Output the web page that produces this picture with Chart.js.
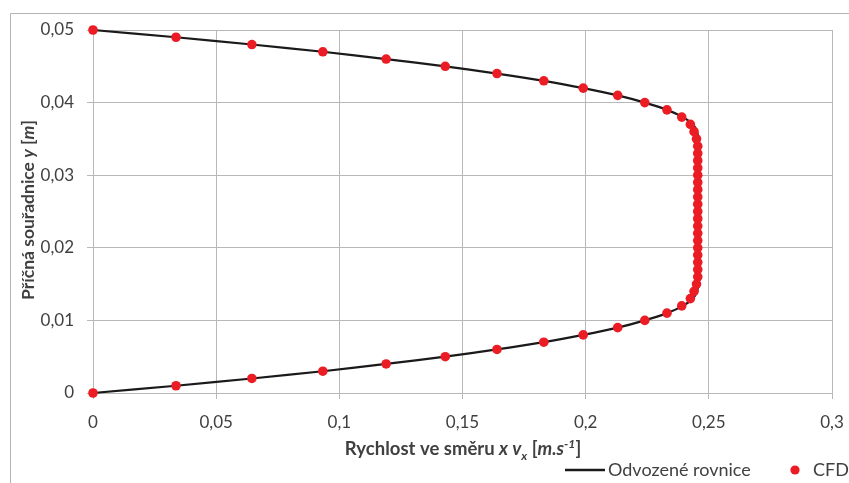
<!DOCTYPE html>
<html>
<head>
<meta charset="utf-8">
<script src="https://cdn.jsdelivr.net/npm/chart.js@4/dist/chart.umd.min.js"></script>
<style>
  html, body { margin: 0; padding: 0; background: #ffffff; }
  #wrap { width: 849px; height: 483px; position: relative; }
</style>
</head>
<body>
<div id="wrap"><canvas id="c" width="849" height="483"></canvas></div>
<script>
// ---- Data ----
const yCFD = [0, 0.001, 0.002, 0.003, 0.004, 0.005, 0.006, 0.007, 0.008, 0.009,
  0.010, 0.011, 0.012, 0.013, 0.014, 0.015, 0.016, 0.017, 0.018, 0.019,
  0.020, 0.021, 0.022, 0.023, 0.024, 0.025, 0.026, 0.027, 0.028, 0.029,
  0.030, 0.031, 0.032, 0.033, 0.034, 0.035, 0.036, 0.037, 0.038, 0.039,
  0.040, 0.041, 0.042, 0.043, 0.044, 0.045, 0.046, 0.047, 0.048, 0.049, 0.050];
const xCFD = [0, 0.0337, 0.0645, 0.0933, 0.119, 0.143, 0.164, 0.183, 0.199, 0.213,
  0.224, 0.233, 0.239, 0.2425, 0.244, 0.245, 0.2455, 0.2455, 0.2455, 0.2455,
  0.2455, 0.2455, 0.2455, 0.2455, 0.2455, 0.2455, 0.2455, 0.2455, 0.2455, 0.2455,
  0.2455, 0.2455, 0.2455, 0.2455, 0.2455, 0.245, 0.244, 0.2425, 0.239, 0.233,
  0.224, 0.213, 0.199, 0.183, 0.164, 0.143, 0.119, 0.0933, 0.0645, 0.0337, 0];

const yLine = [0, 0.001, 0.002, 0.003, 0.004, 0.005, 0.006, 0.007, 0.008, 0.009,
  0.010, 0.011, 0.012, 0.013, 0.014, 0.015, 0.020, 0.025, 0.030, 0.035,
  0.036, 0.037, 0.038, 0.039, 0.040, 0.041, 0.042, 0.043, 0.044, 0.045,
  0.046, 0.047, 0.048, 0.049, 0.050];
const xLine = [0, 0.0337, 0.0645, 0.0933, 0.119, 0.143, 0.164, 0.183, 0.199, 0.213,
  0.224, 0.233, 0.2395, 0.2435, 0.2452, 0.2457, 0.2458, 0.2458, 0.2458, 0.2457,
  0.2452, 0.2435, 0.2395, 0.233, 0.224, 0.213, 0.199, 0.183, 0.164, 0.143,
  0.119, 0.0933, 0.0645, 0.0337, 0];

const xTicks = { min: 0, max: 0.3, step: 0.05 };
const yTicks = { min: 0, max: 0.05, step: 0.01 };

const seriesNames = ['Odvozené rovnice', 'CFD'];

const FONT = 'Lato, "Open Sans", sans-serif';
const TEXT = '#404040';
const GRID = '#b8b8b8';
const RED = '#ec1c24';

function fmt(v) {
  return String(Number(v.toFixed(3))).replace('.', ',');
}

function drawRich(ctx, segs, x, y, size) {
  let total = 0;
  const widths = segs.map(s => {
    const fs = s.sub || s.sup ? size * 0.66 : size;
    ctx.font = (s.italic ? 'italic ' : '') + 'bold ' + fs + 'px ' + FONT;
    const w = ctx.measureText(s.t).width;
    total += w;
    return w;
  });
  let cx = x - total / 2;
  ctx.textBaseline = 'alphabetic';
  ctx.textAlign = 'left';
  segs.forEach((s, i) => {
    const fs = s.sub || s.sup ? size * 0.66 : size;
    ctx.font = (s.italic ? 'italic ' : '') + 'bold ' + fs + 'px ' + FONT;
    let dy = 0;
    if (s.sub) dy = size * 0.25;
    if (s.sup) dy = -size * 0.4;
    ctx.fillText(s.t, cx, y + dy);
    cx += widths[i];
  });
}

const decor = {
  id: 'decor',
  beforeDraw(chart) {
    const ctx = chart.ctx;
    ctx.save();
    ctx.strokeStyle = '#b3b3b3';
    ctx.lineWidth = 1;
    ctx.beginPath();
    ctx.moveTo(10.5, 483);
    ctx.lineTo(10.5, 13.5);
    ctx.lineTo(849, 13.5);
    ctx.stroke();
    ctx.restore();
  },
  afterDraw(chart) {
    const ctx = chart.ctx;
    ctx.save();
    ctx.fillStyle = TEXT;
    // X axis title
    drawRich(ctx, [
      { t: 'Rychlost ve směru ' },
      { t: 'x v', italic: true },
      { t: 'x', italic: true, sub: true },
      { t: ' [' },
      { t: 'm.s', italic: true },
      { t: '-1', italic: true, sup: true },
      { t: ']' }
    ], 463, 455, 18.5);
    // Y axis title
    ctx.save();
    ctx.translate(34, 210);
    ctx.rotate(-Math.PI / 2);
    drawRich(ctx, [
      { t: 'Příčná souřadnice ' },
      { t: 'y', italic: true },
      { t: ' [' },
      { t: 'm', italic: true },
      { t: ']' }
    ], 0, 0, 17.5);
    ctx.restore();
    // Legend
    const ly = 470;
    ctx.strokeStyle = '#1a1a1a';
    ctx.lineWidth = 2.5;
    ctx.beginPath();
    ctx.moveTo(565, ly);
    ctx.lineTo(605, ly);
    ctx.stroke();
    ctx.font = '18px ' + FONT;
    ctx.textAlign = 'left';
    ctx.textBaseline = 'middle';
    ctx.fillStyle = TEXT;
    ctx.fillText(seriesNames[0], 608, ly);
    ctx.fillStyle = RED;
    ctx.beginPath();
    ctx.arc(795, ly, 4.6, 0, Math.PI * 2);
    ctx.fill();
    ctx.fillStyle = TEXT;
    ctx.fillText(seriesNames[1], 813, ly);
    ctx.restore();
  }
};

const lineData = xLine.map((x, i) => ({ x: x, y: yLine[i] }));
const cfdData = xCFD.map((x, i) => ({ x: x, y: yCFD[i] }));

new Chart(document.getElementById('c'), {
  type: 'scatter',
  data: {
    datasets: [
      {
        label: seriesNames[1],
        data: cfdData,
        showLine: false,
        pointRadius: 4.8,
        pointBorderWidth: 0,
        pointBackgroundColor: RED,
        pointBorderColor: RED,
        clip: false,
        order: 0
      },
      {
        label: seriesNames[0],
        data: lineData,
        showLine: true,
        borderColor: '#1a1a1a',
        borderWidth: 2.2,
        pointRadius: 0,
        tension: 0.3,
        fill: false,
        clip: false,
        order: 1
      }
    ]
  },
  options: {
    responsive: false,
    animation: false,
    devicePixelRatio: 1,
    layout: { autoPadding: false, padding: { left: 0, right: 17, top: 30, bottom: 0 } },
    plugins: {
      legend: { display: false },
      tooltip: { enabled: false },
      title: { display: false }
    },
    scales: {
      x: {
        type: 'linear',
        min: xTicks.min,
        max: xTicks.max,
        afterFit(s) { s.height = 90; s.paddingLeft = 0; s.paddingRight = 0; },
        ticks: {
          stepSize: xTicks.step,
          callback: v => fmt(v),
          color: TEXT,
          font: { family: FONT, size: 17 },
          padding: 13,
          maxRotation: 0
        },
        grid: { color: GRID, lineWidth: 1, tickLength: 6, tickColor: GRID },
        border: { color: GRID }
      },
      y: {
        type: 'linear',
        min: yTicks.min,
        max: yTicks.max,
        afterFit(s) { s.width = 93; s.paddingTop = 0; s.paddingBottom = 0; },
        ticks: {
          stepSize: yTicks.step,
          callback: v => fmt(v),
          color: TEXT,
          font: { family: FONT, size: 17 },
          padding: 13
        },
        grid: { color: GRID, lineWidth: 1, tickLength: 6, tickColor: GRID },
        border: { color: GRID }
      }
    }
  },
  plugins: [decor]
});
</script>
</body>
</html>
